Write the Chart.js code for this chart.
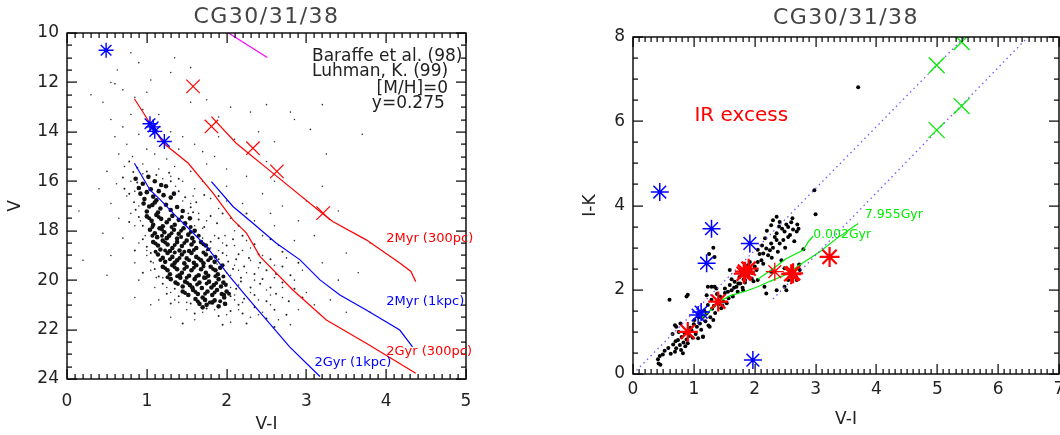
<!DOCTYPE html>
<html>
<head>
<meta charset="utf-8">
<script src="https://cdn.jsdelivr.net/npm/chart.js@4.4.1/dist/chart.umd.min.js"></script>
<style>
  html, body { margin: 0; padding: 0; background: #fff; overflow: hidden; }
  body { width: 1060px; height: 435px; position: relative; }
  .boks { position: absolute; top: 0; }
</style>
</head>
<body>
<div class="boks" style="left:0px"><canvas id="cmd-graf" width="530" height="435"></canvas></div>
<div class="boks" style="left:560px"><canvas id="farge-graf" width="540" height="435"></canvas></div>
<script>
// ---- venstre panel: V mot V-I ----
const kjernePunkter = [
  [0.86,15.9],[0.95,16.1],[1.02,15.82],[1.1,16.0],[1.18,16.15],[0.9,16.27],[1.05,16.32],[1.24,16.2],
  [0.92,16.5],[1.0,16.44],[1.08,16.62],[1.15,16.4],[1.21,16.56],[1.3,16.66],[0.97,16.72],[1.12,16.77],[1.34,16.5],
  [0.96,16.9],[1.03,17.02],[1.1,16.86],[1.17,17.1],[1.24,16.95],[1.3,17.16],[1.38,17.04],[1.0,17.22],[1.14,17.26],[1.45,17.2],[1.07,16.96],
  [1.0,17.42],[1.06,17.6],[1.12,17.36],[1.18,17.52],[1.25,17.66],[1.32,17.4],[1.4,17.56],[1.48,17.7],[1.08,17.76],[1.2,17.82],[1.35,17.76],[1.54,17.5],
  [1.04,17.96],[1.1,18.1],[1.16,17.9],[1.22,18.06],[1.28,18.2],[1.34,17.96],[1.4,18.12],[1.46,17.9],[1.52,18.16],[1.6,18.0],[1.13,18.26],[1.25,18.3],[1.38,18.32],[1.57,18.3],
  [1.08,18.46],[1.14,18.6],[1.2,18.4],[1.26,18.56],[1.32,18.7],[1.38,18.46],[1.44,18.62],[1.5,18.4],[1.56,18.56],[1.62,18.7],[1.68,18.46],[1.17,18.76],[1.29,18.82],[1.41,18.8],[1.53,18.82],[1.74,18.6],
  [1.14,18.96],[1.2,19.1],[1.26,18.9],[1.32,19.06],[1.38,19.2],[1.44,18.96],[1.5,19.12],[1.56,18.9],[1.62,19.06],[1.68,19.2],[1.74,18.96],[1.8,19.1],[1.23,19.26],[1.35,19.3],[1.47,19.32],[1.59,19.3],[1.71,19.32],[1.85,19.26],
  [1.2,19.46],[1.26,19.6],[1.32,19.4],[1.38,19.56],[1.44,19.7],[1.5,19.46],[1.56,19.6],[1.62,19.4],[1.68,19.56],[1.74,19.7],[1.8,19.46],[1.86,19.6],[1.92,19.5],[1.29,19.76],[1.41,19.8],[1.53,19.82],[1.65,19.8],[1.77,19.82],[1.89,19.76],
  [1.3,19.96],[1.36,20.1],[1.42,19.9],[1.48,20.06],[1.54,20.2],[1.6,19.96],[1.66,20.1],[1.72,19.9],[1.78,20.06],[1.84,20.2],[1.9,19.96],[1.96,20.1],[1.45,20.26],[1.57,20.3],[1.69,20.32],[1.81,20.3],[1.93,20.26],
  [1.45,20.46],[1.52,20.6],[1.58,20.4],[1.64,20.56],[1.7,20.7],[1.76,20.46],[1.82,20.6],[1.88,20.4],[1.94,20.56],[2.0,20.46],[1.61,20.76],[1.73,20.8],[1.85,20.82],[1.97,20.7],
  [1.66,20.96],[1.75,21.0],[1.82,20.9],[1.9,21.06],[1.98,20.96],[1.7,21.1]
];
const kjernePunkterEkstra = [
  [1.03,17.5],[1.15,17.45],[1.28,17.55],[1.44,17.45],
  [1.07,17.85],[1.19,17.95],[1.31,17.85],[1.43,18.0],[1.55,17.85],
  [1.07,18.2],[1.19,18.2],[1.31,18.1],[1.43,18.25],[1.55,18.05],[1.65,18.2],
  [1.11,18.52],[1.23,18.48],[1.35,18.58],[1.47,18.5],[1.59,18.45],[1.71,18.55],
  [1.11,18.85],[1.23,18.8],[1.35,18.88],[1.47,18.85],[1.59,18.78],[1.71,18.88],[1.77,18.75],
  [1.17,19.18],[1.29,19.15],[1.41,19.1],[1.53,19.2],[1.65,19.12],[1.77,19.2],[1.86,19.05],
  [1.23,19.52],[1.35,19.48],[1.47,19.55],[1.59,19.5],[1.71,19.45],[1.83,19.55],[1.95,19.4],
  [1.26,19.88],[1.38,19.84],[1.5,19.9],[1.62,19.85],[1.74,19.9],[1.86,19.84],[1.96,19.85],
  [1.39,20.16],[1.51,20.12],[1.63,20.18],[1.75,20.14],[1.87,20.12],[1.99,20.2],
  [1.48,20.52],[1.61,20.48],[1.73,20.55],[1.85,20.5],[1.97,20.6],[2.03,20.55],
  [1.64,20.86],[1.79,20.9],[1.92,20.85]
];
const middelsPunkter = [
  [0.78,15.2],[0.88,15.45],[1.0,15.6],[1.12,15.75],[0.7,15.85],[1.28,15.65],[1.4,15.9],[0.83,15.62],
  [0.78,16.5],[0.84,16.85],[1.4,16.4],[1.48,16.65],[1.55,17.05],[1.62,16.85],[1.72,16.55],[1.9,16.6],[0.88,16.05],[1.3,16.0],[0.72,16.3],
  [0.86,17.15],[0.9,17.45],[0.95,17.8],[1.58,17.25],[1.65,17.55],[1.72,17.85],[1.8,17.4],[1.88,17.7],[1.95,17.3],[2.15,17.8],[2.25,17.3],[0.78,17.65],
  [0.95,18.35],[1.0,18.65],[1.05,18.9],[1.66,18.2],[1.75,18.8],[1.8,18.45],[1.9,18.3],[1.95,18.9],[2.0,18.6],[2.08,18.35],[2.15,18.95],[2.2,18.2],[2.35,18.55],[2.4,18.95],[2.55,18.35],[2.7,18.85],[0.85,18.8],
  [1.05,19.25],[1.1,19.55],[1.15,19.85],[1.9,19.15],[1.95,19.4],[2.02,19.25],[2.08,19.55],[2.12,19.15],[2.18,19.9],[2.22,19.45],[2.28,19.1],[2.35,19.75],[2.42,19.3],[2.5,19.6],[2.55,19.15],[2.62,19.75],[2.7,19.45],[2.8,19.8],[2.9,19.3],[0.95,19.7],[2.45,19.95],
  [1.2,20.15],[1.25,20.55],[1.35,20.35],[1.4,20.65],[2.0,20.15],[2.05,20.65],[2.12,20.35],[2.18,20.05],[2.22,20.75],[2.3,20.3],[2.35,20.6],[2.42,20.15],[2.5,20.85],[2.55,20.3],[2.62,20.55],[2.7,20.1],[2.78,20.85],[2.85,20.35],[2.95,20.7],[1.55,20.95],[2.15,21.0],[1.3,20.95],
  [1.6,21.35],[1.75,21.15],[1.9,21.45],[2.05,21.25],[2.2,21.35],[2.35,21.1],[2.5,21.55],[2.6,21.2],[2.75,21.4],[1.45,21.75],[1.95,21.8],[2.25,21.75],[2.6,21.9]
];
const spredtePunkter = [
  [0.63,11.5],[0.9,11.2],[1.35,11.0],[0.55,12.0],[0.6,12.05],[0.3,12.5],[0.45,12.8],[0.7,12.3],[0.85,12.6],[1.0,12.4],
  [1.3,11.6],[1.05,11.9],[1.55,12.8],[1.75,12.7],[2.05,13.0],[2.5,12.9],[2.85,13.5],[2.3,13.2],[1.9,13.4],[0.8,13.3],
  [0.55,13.5],[0.7,13.8],[0.95,13.1],[1.15,13.3],[0.6,14.2],[0.75,14.5],[0.9,14.1],[1.3,14.0],[1.45,14.2],[1.6,14.5],
  [1.7,14.8],[1.9,14.2],[2.1,14.3],[2.4,14.0],[1.85,15.0],[0.65,14.9],[0.82,15.0],[1.0,14.7],[1.1,14.9],[1.25,15.1],
  [1.4,14.7],[0.5,15.6],[0.72,15.4],[0.95,15.3],[1.15,15.5],[1.35,15.4],[1.55,15.6],[1.75,15.3],[2.0,15.5],[2.25,15.8],
  [2.5,15.2],[2.6,16.0],[0.4,16.3],[0.62,16.1],[0.75,16.6],[0.55,16.9],[1.45,16.0],[1.6,16.3],[1.8,16.7],[2.0,16.2],
  [2.2,16.9],[2.45,16.5],[2.7,17.0],[3.0,16.8],[3.2,16.2],[3.4,17.2],[0.15,17.2],[0.65,17.5],[0.8,17.3],[0.85,17.8],
  [1.55,16.9],[1.65,17.3],[1.75,17.6],[1.9,17.1],[2.05,17.5],[2.35,17.6],[2.6,17.8],[2.9,17.6],[0.45,18.1],[0.7,18.3],
  [0.9,18.5],[1.7,17.9],[1.85,18.2],[1.95,18.5],[2.1,18.0],[2.25,18.4],[2.45,18.2],[2.65,18.6],[2.85,18.4],[3.1,18.2],
  [3.5,18.9],[3.8,18.5],[0.2,19.2],[0.55,19.0],[0.85,19.3],[1.0,19.0],[1.05,19.6],[1.9,18.8],[2.0,19.0],[2.1,19.4],
  [2.2,18.8],[2.3,19.2],[2.45,19.0],[2.6,19.4],[2.75,19.1],[2.95,19.6],[3.2,19.3],[3.4,20.0],[3.65,19.7],[0.5,19.8],
  [0.9,20.0],[1.1,20.3],[1.2,19.9],[2.05,19.8],[2.15,20.2],[2.25,19.7],[2.35,20.0],[2.5,20.4],[2.6,19.9],[2.7,20.3],
  [2.85,20.0],[3.0,20.5],[3.3,20.8],[0.85,20.7],[1.15,20.8],[1.3,20.5],[1.4,20.9],[2.1,20.6],[2.2,20.9],[2.3,20.5],
  [2.4,20.8],[2.55,21.0],[2.7,20.7],[2.9,21.2],[3.1,21.0],[3.5,21.3],[1.5,21.2],[1.7,21.3],[1.85,21.2],[2.0,21.4],
  [2.15,21.2],[2.3,21.5],[2.45,21.3],[2.65,21.6],[1.3,21.5],[1.6,21.6],[2.05,21.7],[2.8,21.8],[3.8,21.3],[1.05,21.0],
  [2.0,21.0],[2.4,21.4],[2.55,20.6],[2.4,19.5],[2.15,19.6],[2.3,18.7],[1.98,18.2],[2.1,18.6],[2.55,17.3],[2.0,16.8],
  [1.7,16.0],[1.3,15.8],[0.95,15.7],[3.25,14.9],[3.05,13.9],[3.2,12.9],[2.6,14.4],[0.8,10.8],[1.55,11.4],[3.7,14.1],
  [2.8,13.2],[0.9,17.0],[0.92,17.6],[0.98,18.2],[1.0,18.8],[1.08,19.3],[1.12,19.9],[1.25,20.3],[1.35,20.8],[1.5,20.9],
  [1.45,16.8],[1.52,17.3],[1.6,17.8],[1.7,18.3],[1.8,18.7],[1.88,19.35],[2.0,19.7],[2.05,20.3],[2.1,20.8],[1.58,16.6],
  [1.36,16.2],[1.2,15.9],[0.8,16.0],[0.85,16.4]
];
const magentaLinje = [[2.0,9.95],[2.51,10.99]];
const rod2Myr300 = [[1.81,13.38],[2.12,14.46],[2.58,15.67],[3.17,17.22],[3.33,17.63],[3.75,18.37],[4.17,19.31],[4.31,19.65],[4.37,20.06]];
const rod2Gyr300 = [[0.845,12.66],[1.04,13.65],[1.21,14.46],[1.52,15.27],[1.83,16.48],[2.08,17.56],[2.25,18.1],[2.42,19.05],[2.83,20.4],[3.25,21.61],[3.75,22.55],[4.37,23.77]];
const bla2Myr1k = [[1.81,16.01],[2.08,17.02],[2.33,17.7],[2.62,18.5],[2.92,19.18],[3.17,19.99],[3.42,20.6],[3.75,21.21],[4.17,22.02],[4.33,22.7]];
const bla2Gyr1k = [[0.845,15.27],[1.04,16.35],[1.17,16.75],[1.39,17.49],[1.5,17.83],[1.75,18.64],[2.04,19.86],[2.25,20.67],[2.5,21.61],[2.79,22.7],[3.17,23.9]];
const blaStjernerV = [[0.49,10.7],[1.04,13.67],[1.08,13.8],[1.10,13.98],[1.22,14.39]];
const rodeKryssV = [[1.58,12.16],[1.81,13.78],[2.33,14.66],[2.63,15.6],[3.21,17.29]];

// ---- høyre panel: I-K mot V-I ----
const fargePunkter = [
  [0.41,0.35],[0.44,0.43],[0.49,0.46],[0.45,0.22],[0.42,0.25],[0.52,0.55],[0.58,0.62],[0.62,0.48],[0.66,0.7],[0.69,0.53],
  [0.71,0.61],[0.7,0.78],[0.74,0.81],[0.77,0.69],[0.79,0.57],[0.8,0.88],[0.82,0.49],[0.83,0.75],[0.85,0.97],[0.86,0.66],
  [0.88,0.82],[0.9,0.73],[0.92,0.9],[0.94,1.1],[0.96,1.04],[0.98,0.86],[1.0,1.18],[1.01,1.28],[1.03,0.95],[1.05,1.12],
  [1.07,0.85],[1.08,1.35],[1.1,1.2],[1.12,1.05],[1.15,0.89],[1.15,1.36],[1.17,1.5],[1.19,1.25],[1.21,1.44],[1.23,1.64],
  [1.24,1.15],[1.26,1.12],[1.27,1.35],[1.29,1.76],[1.3,1.55],[1.32,1.28],[1.33,1.62],[1.35,1.45],[0.69,1.16],[0.71,1.12],
  [0.6,1.76],[0.88,1.84],[0.9,1.88],[0.65,0.95],[0.75,1.0],[0.78,1.2],[1.15,0.88],
  [1.21,1.87],[1.23,2.07],[1.34,2.07],[1.37,2.03],[1.29,2.07],[1.43,1.84],[1.45,1.56],[1.48,1.72],[1.51,2.03],[1.51,1.92],
  [1.54,1.68],[1.56,1.95],[1.57,1.8],[1.59,2.11],[1.62,1.99],[1.64,1.84],[1.66,2.05],[1.67,2.19],[1.7,2.07],[1.72,1.95],
  [1.73,2.15],[1.75,2.3],[1.76,2.15],[1.78,2.4],[1.8,2.05],[1.81,1.99],[1.82,2.25],[1.84,2.17],[1.84,2.23],[1.86,2.5],
  [1.88,2.35],[1.89,2.58],[1.92,2.66],[1.93,2.45],[1.95,2.27],[1.97,2.39],[1.98,2.2],[2.0,2.55],[2.03,2.47],[2.05,2.66],
  [2.05,2.23],[1.59,2.47],[1.34,2.78],[1.25,2.85],[1.32,3.0],[1.4,1.65],[1.38,1.9],[1.47,1.62],[1.62,2.25],
  [2.11,2.7],[2.14,2.86],[2.14,2.62],[2.17,3.22],[2.19,2.98],[2.22,2.82],[2.25,2.94],[2.27,3.1],[2.27,3.53],[2.3,3.0],
  [2.33,3.25],[2.36,3.18],[2.36,3.34],[2.36,3.73],[2.38,2.9],[2.41,3.1],[2.41,3.61],[2.44,2.7],[2.45,3.45],[2.47,3.18],
  [2.49,3.38],[2.5,3.0],[2.52,3.55],[2.55,3.49],[2.55,3.25],[2.58,3.3],[2.6,3.6],[2.63,3.43],[2.65,3.15],[2.69,3.38],
  [2.7,3.55],[2.72,3.45],[2.2,3.4],[2.3,3.65],[2.12,3.05],[2.08,2.85],[2.4,3.5],[2.62,3.7],[2.05,2.95],[2.28,2.76],
  [2.27,2.43],[2.16,2.07],[2.36,1.99],[2.49,2.07],[2.55,2.23],[2.69,2.23],[2.74,2.47],[2.49,2.51],[2.19,1.91],[2.52,1.99],
  [2.68,2.3],[2.73,2.6],[2.98,4.36],[3.0,3.79],[3.7,6.81],[2.8,2.96]
];
const rodFaretrekant1 = [[0,0],[5.45,8.0]];
const rodFaretrekant2 = [[2.30,1.78],[6.49,8.0]];
const gronn7955 = [[1.1,1.3],[1.2,1.42],[1.42,1.72],[1.6,1.86],[1.86,1.97],[2.05,2.07],[2.25,2.2],[2.5,2.35],[2.75,2.6],[3.07,2.9],[3.35,3.22],[3.7,3.57]];
const gronn0002 = [[2.05,2.25],[2.3,2.5],[2.52,2.74],[2.8,2.94],[2.88,3.14],[2.96,3.27]];
const blaStjernerIK = [[0.44,4.32],[1.29,3.45],[1.21,2.63],[1.92,3.10],[1.97,0.33],[1.07,1.40],[1.12,1.47]];
const rodeStjernerTykke = [[0.9,1.0],[1.4,1.72],[1.84,2.43],[1.9,2.5],[1.82,2.38],[2.63,2.39],[2.6,2.37],[3.23,2.78]];
const rodeStjernerTynne = [[2.33,2.43]];
const gronneKryss = [[4.99,7.33],[5.40,7.88],[4.99,5.79],[5.40,6.36]];

const tilPunkter = (liste) => liste.map(([x, y]) => ({ x, y }));
const skrift = '"DejaVu Sans", sans-serif';

// ramme med innadvendte tikker på alle fire sider, tittel og tekster
function lagRamme(oppsett) {
  return {
    id: "ramme",
    afterDraw(chart) {
      const { ctx, chartArea: a, scales } = chart;
      const sx = scales.x, sy = scales.y;
      ctx.save();
      ctx.fillStyle = "#000";
      const nx = Math.round((oppsett.xMax - oppsett.xMin) / oppsett.xLiten);
      for (let i = 0; i <= nx; i++) {
        const v = oppsett.xMin + i * oppsett.xLiten;
        const stor = Math.abs(v / oppsett.xStor - Math.round(v / oppsett.xStor)) < 1e-6;
        const l = stor ? oppsett.langTikk : oppsett.kortTikk;
        const p = Math.round(sx.getPixelForValue(v));
        ctx.fillRect(p - 0.5, a.bottom - l, 1.2, l);
        ctx.fillRect(p - 0.5, a.top, 1.2, l);
      }
      const ny = Math.round((oppsett.yMax - oppsett.yMin) / oppsett.yLiten);
      for (let i = 0; i <= ny; i++) {
        const v = oppsett.yMin + i * oppsett.yLiten;
        const stor = Math.abs(v / oppsett.yStor - Math.round(v / oppsett.yStor)) < 1e-6;
        const l = stor ? oppsett.langTikk : oppsett.kortTikk;
        const p = Math.round(sy.getPixelForValue(v));
        ctx.fillRect(a.left, p - 0.5, l, 1.2);
        ctx.fillRect(a.right - l, p - 0.5, l, 1.2);
      }
      ctx.strokeStyle = "#000";
      ctx.lineWidth = 1.4;
      ctx.strokeRect(a.left, a.top, a.right - a.left, a.bottom - a.top);

      ctx.fillStyle = "#444";
      ctx.font = "22px " + skrift;
      ctx.letterSpacing = "1.5px";
      ctx.textAlign = "center";
      ctx.textBaseline = "middle";
      ctx.fillText(oppsett.tittel, (a.left + a.right) / 2, oppsett.tittelY);
      ctx.letterSpacing = "0px";

      ctx.textAlign = "left";
      oppsett.tekster.forEach((t) => {
        ctx.fillStyle = t.farge;
        ctx.font = t.str + "px " + skrift;
        ctx.fillText(t.tekst, sx.getPixelForValue(t.x), sy.getPixelForValue(t.y));
      });
      ctx.restore();
    },
  };
}

function linjeSett(data, farge, ekstra) {
  return Object.assign({
    data: tilPunkter(data), showLine: true, borderColor: farge, borderWidth: 1.2,
    pointRadius: 0, fill: false, tension: 0, order: 5,
  }, ekstra || {});
}
function merkeSett(data, stil, farge, radius, bredde) {
  return {
    data: tilPunkter(data), pointStyle: stil, pointRadius: radius, borderColor: farge,
    pointBorderWidth: bredde, borderWidth: bredde, showLine: false, order: 1,
  };
}
function prikkSett(data, radius, farge, rekke) {
  return {
    data: tilPunkter(data), pointRadius: radius, backgroundColor: farge,
    borderWidth: 0, pointBorderWidth: 0, showLine: false, order: rekke || 10,
  };
}
function akse(min, max, stegLengde, tittel, tPad, lPad, fast, revers) {
  return {
    type: "linear", min, max, reverse: !!revers,
    grid: { display: false, drawTicks: false },
    border: { display: false },
    ticks: { stepSize: stegLengde, color: "#222", font: { family: skrift, size: 17 }, padding: lPad, autoSkip: false },
    title: { display: true, text: tittel, color: "#222", font: { family: skrift, size: 17 }, padding: tPad },
    afterFit: fast,
  };
}

new Chart(document.getElementById("cmd-graf"), {
  type: "scatter",
  data: {
    datasets: [
      prikkSett(spredtePunkter, 0.8, "#333", 12),
      prikkSett(middelsPunkter, 1.0, "#222", 11),
      prikkSett(kjernePunkter, 2.3, "#111", 10),
      prikkSett(kjernePunkterEkstra, 2.0, "#111", 10),
      linjeSett(magentaLinje, "#ff00ff"),
      linjeSett(rod2Myr300, "#ff0000"),
      linjeSett(rod2Gyr300, "#ff0000"),
      linjeSett(bla2Myr1k, "#0000ff"),
      linjeSett(bla2Gyr1k, "#0000ff"),
      merkeSett(blaStjernerV, "star", "#0000ff", 7.5, 1.4),
      merkeSett(rodeKryssV, "crossRot", "#ff0000", 9.5, 1.2),
    ],
  },
  options: {
    responsive: false, animation: false, devicePixelRatio: 1,
    layout: { padding: { top: 33, right: 64, bottom: 0, left: 0 } },
    plugins: { legend: { display: false }, tooltip: { enabled: false } },
    scales: {
      x: akse(0, 5, 1, "V-I", { top: 0, bottom: 0 }, 12, (s) => { s.height = 56; }),
      y: akse(10, 24, 2, "V", { top: 5, bottom: 0 }, 8, (s) => { s.width = 67; }, true),
    },
  },
  plugins: [lagRamme({
    tittel: "CG30/31/38", tittelY: 17, langTikk: 10, kortTikk: 5,
    xMin: 0, xMax: 5, xLiten: 0.1, xStor: 1,
    yMin: 10, yMax: 24, yLiten: 0.5, yStor: 2,
    tekster: [
      { tekst: "Baraffe et al. (98)", x: 3.07, y: 10.95, farge: "#222", str: 17 },
      { tekst: "Luhman, K. (99)", x: 3.07, y: 11.55, farge: "#222", str: 17 },
      { tekst: "[M/H]=0", x: 3.88, y: 12.25, farge: "#222", str: 17 },
      { tekst: "y=0.275", x: 3.82, y: 12.85, farge: "#222", str: 17 },
      { tekst: "2Myr (300pc)", x: 4.0, y: 18.33, farge: "#ff0000", str: 13 },
      { tekst: "2Myr (1kpc)", x: 4.0, y: 20.88, farge: "#0000ff", str: 13 },
      { tekst: "2Gyr (300pc)", x: 4.0, y: 22.91, farge: "#ff0000", str: 13 },
      { tekst: "2Gyr (1kpc)", x: 3.1, y: 23.35, farge: "#0000ff", str: 13 },
    ],
  })],
});

new Chart(document.getElementById("farge-graf"), {
  type: "scatter",
  data: {
    datasets: [
      prikkSett(fargePunkter, 2, "#000"),
      linjeSett(rodFaretrekant1, "#7f50ff", { borderDash: [1.5, 3.5], borderWidth: 1.3 }),
      linjeSett(rodFaretrekant2, "#7f50ff", { borderDash: [1.5, 3.5], borderWidth: 1.3 }),
      linjeSett(gronn7955, "#00ee00"),
      linjeSett(gronn0002, "#00ee00"),
      merkeSett(blaStjernerIK, "star", "#0000ff", 9, 1.5),
      merkeSett(rodeStjernerTykke, "star", "#ff0000", 10, 2.2),
      merkeSett(rodeStjernerTynne, "star", "#ff0000", 9, 1.3),
      merkeSett(gronneKryss, "crossRot", "#00ee00", 11.3, 1.3),
    ],
  },
  options: {
    responsive: false, animation: false, devicePixelRatio: 1,
    layout: { padding: { top: 37, right: 41, bottom: 0, left: 0 } },
    plugins: { legend: { display: false }, tooltip: { enabled: false } },
    scales: {
      x: akse(0, 7, 1, "V-I", { top: 0, bottom: 5 }, 5, (s) => { s.height = 61; }),
      y: akse(0, 8, 2, "I-K", { top: 20, bottom: 0 }, 8, (s) => { s.width = 73; }),
    },
  },
  plugins: [lagRamme({
    tittel: "CG30/31/38", tittelY: 18, langTikk: 10, kortTikk: 5,
    xMin: 0, xMax: 7, xLiten: 0.1, xStor: 1,
    yMin: 0, yMax: 8, yLiten: 0.5, yStor: 2,
    tekster: [
      { tekst: "IR excess", x: 1.01, y: 6.14, farge: "#ff0000", str: 20 },
      { tekst: "7.955Gyr", x: 3.81, y: 3.77, farge: "#00ee00", str: 12.5 },
      { tekst: "0.002Gyr", x: 2.96, y: 3.30, farge: "#00ee00", str: 12.5 },
    ],
  })],
});
</script>
</body>
</html>
